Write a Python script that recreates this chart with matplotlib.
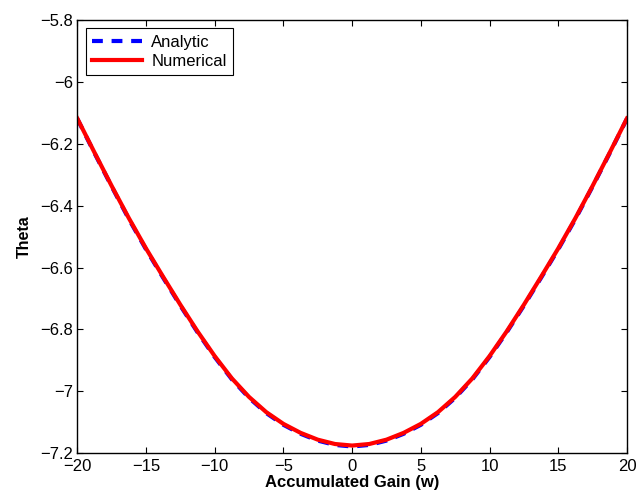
import matplotlib
matplotlib.use("Agg")
import matplotlib.pyplot as plt
from matplotlib.ticker import FuncFormatter

# Values (x step 1.25)
gain = [-20, -18.75, -17.5, -16.25, -15, -13.75, -12.5, -11.25, -10,
        -8.75, -7.5, -6.25, -5, -3.75, -2.5, -1.25, 0,
        1.25, 2.5, 3.75, 5, 6.25, 7.5, 8.75, 10,
        11.25, 12.5, 13.75, 15, 16.25, 17.5, 18.75, 20]
theta_numerical = [-6.118, -6.228, -6.336, -6.440, -6.538, -6.630, -6.720, -6.806, -6.886,
                   -6.958, -7.018, -7.067, -7.105, -7.134, -7.156, -7.170, -7.175,
                   -7.170, -7.156, -7.134, -7.105, -7.067, -7.018, -6.958, -6.886,
                   -6.806, -6.720, -6.630, -6.538, -6.440, -6.336, -6.228, -6.118]
theta_analytic = [-6.119, -6.230, -6.338, -6.443, -6.541, -6.633, -6.723, -6.809, -6.889,
                  -6.961, -7.021, -7.070, -7.108, -7.137, -7.159, -7.173, -7.178,
                  -7.173, -7.159, -7.137, -7.108, -7.070, -7.021, -6.961, -6.889,
                  -6.809, -6.723, -6.633, -6.541, -6.443, -6.338, -6.230, -6.119]

x_ticks = [-20, -15, -10, -5, 0, 5, 10, 15, 20]
y_ticks = [-7.2, -7.0, -6.8, -6.6, -6.4, -6.2, -6.0, -5.8]

plt.rcParams['font.family'] = ['Liberation Sans', 'DejaVu Sans']


def matlab_fmt(v, pos):
    return ("%g" % v).replace("-", "\u2212")


fig = plt.figure(figsize=(6.36, 4.99), dpi=100)
ax = fig.add_axes([0.1215, 0.0916, 0.8643, 0.8684])

ax.plot(gain, theta_analytic, color="blue", linestyle="--", linewidth=3,
        dashes=(2.6, 2.1), label="Analytic")
ax.plot(gain, theta_numerical, color="red", linestyle="-", linewidth=3,
        label="Numerical")

ax.set_xlim(-20, 20)
ax.set_ylim(-7.2, -5.8)
ax.set_xticks(x_ticks)
ax.set_yticks(y_ticks)
ax.xaxis.set_major_formatter(FuncFormatter(matlab_fmt))
ax.yaxis.set_major_formatter(FuncFormatter(matlab_fmt))
ax.tick_params(direction="in", top=True, right=True, length=4, width=0.8,
               labelsize=12)
ax.tick_params(axis="x", pad=4)
ax.tick_params(axis="y", pad=3)
for s in ax.spines.values():
    s.set_linewidth(1.0)

ax.set_xlabel("Accumulated Gain (w)", fontsize=12, fontweight="bold", labelpad=1)
ax.set_ylabel("Theta", fontsize=11.5, fontweight="bold", labelpad=6)

leg = ax.legend(loc="upper left", fontsize=12, fancybox=False, framealpha=1,
                edgecolor="black", borderaxespad=0.5, handlelength=3.0,
                borderpad=0.4, labelspacing=0.22, handletextpad=0.55)
leg.get_frame().set_linewidth(0.8)

fig.savefig("out.png", dpi=100)
